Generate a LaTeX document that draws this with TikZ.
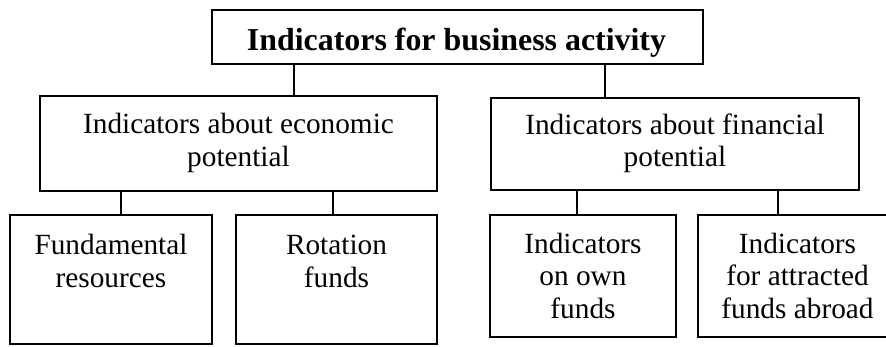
\documentclass[tikz,border=0pt]{standalone}
\usepackage{fontspec}
\setmainfont{Liberation Serif}
\begin{document}
\begin{tikzpicture}[x=1pt,y=-1pt,
  box/.style={draw=black, line width=1.7pt, rectangle, inner sep=0pt, fill=white},
  txt/.style={inner sep=0pt, align=center, anchor=base, font=\fontsize{29.3pt}{32.5pt}\selectfont},
  ttl/.style={inner sep=0pt, anchor=base, font=\fontsize{31.9pt}{36pt}\selectfont\bfseries},
  link/.style={draw=black, line width=1.7pt}]
\useasboundingbox (0,0) rectangle (886,346);
\clip (0,0) rectangle (886,346);
\fill[white] (0,0) rectangle (886,346);
% boxes
\node[box, minimum width=491pt, minimum height=54pt] (top) at (457.5,37) {};
\node[box, minimum width=397pt, minimum height=95pt] (lm) at (238.5,143.5) {};
\node[box, minimum width=368pt, minimum height=92pt] (rm) at (675,144) {};
\node[box, minimum width=202pt, minimum height=129pt] (b1) at (111,279.5) {};
\node[box, minimum width=201pt, minimum height=129pt] (b2) at (336.5,279.5) {};
\node[box, minimum width=186pt, minimum height=122pt] (b3) at (583,276) {};
\node[box, minimum width=199pt, minimum height=122pt] (b4) at (797.5,276) {};
% texts (base anchor = baseline of last line)
\node[ttl] (ttop) at (456.5,50) {Indicators for business activity};
\node[txt] (tlm) at (238.5,166) {Indicators about economic\\potential};
\node[txt] (trm) at (675,166.5) {Indicators about financial\\potential};
\node[txt] (tb1) at (111,287) {Fundamental\\resources};
\node[txt] (tb2) at (336.5,287) {Rotation\\funds};
\node[txt] (tb3) at (583,318) {Indicators\\on own\\funds};
\node[txt] (tb4) at (797.5,318) {Indicators\\for attracted\\funds abroad};
% connectors
\draw[link] (294,0 |- top.south) -- (294,0 |- lm.north);
\draw[link] (605,0 |- top.south) -- (605,0 |- rm.north);
\draw[link] (121,0 |- lm.south) -- (121,0 |- b1.north);
\draw[link] (333,0 |- lm.south) -- (333,0 |- b2.north);
\draw[link] (577,0 |- rm.south) -- (577,0 |- b3.north);
\draw[link] (778,0 |- rm.south) -- (778,0 |- b4.north);
\end{tikzpicture}
\end{document}
